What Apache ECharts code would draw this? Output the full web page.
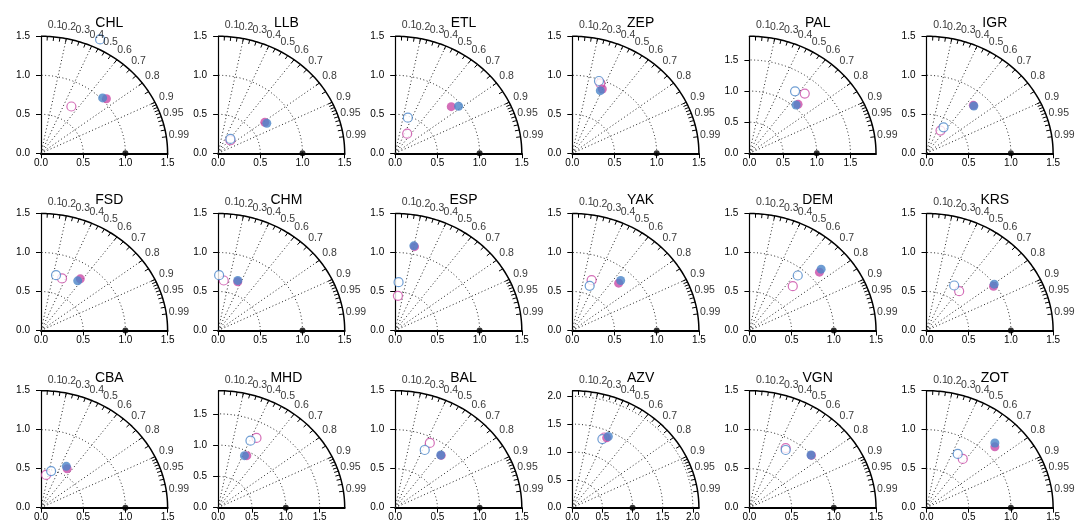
<!DOCTYPE html>
<html>
<head>
<meta charset="utf-8">
<script src="https://cdn.jsdelivr.net/npm/echarts@6/dist/echarts.min.js"></script>
<style>
  html, body { margin: 0; padding: 0; background: #fff; }
  #container { width: 1076px; height: 526px; }
</style>
</head>
<body>
<div id="container"></div>
<script>
// Taylor diagrams, one per site (3 rows x 6 columns)
const sites = ['CHL', 'LLB', 'ETL', 'ZEP', 'PAL', 'IGR',
               'FSD', 'CHM', 'ESP', 'YAK', 'DEM', 'KRS',
               'CBA', 'MHD', 'BAL', 'AZV', 'VGN', 'ZOT'];
const axisMax = [1.5, 1.5, 1.5, 1.5, 1.88, 1.5,
                 1.5, 1.5, 1.5, 1.5, 1.5, 1.5,
                 1.5, 1.87, 1.5, 2.1, 1.5, 1.5];
const axisTicks = [0, 0.5, 1, 1.5, 2];
const corrLabels = [0.1, 0.2, 0.3, 0.4, 0.5, 0.6, 0.7, 0.8, 0.9, 0.95, 0.99];
const corrRays = [0.2, 0.4, 0.6, 0.8, 0.9];
const refPoint = [1, 0];

// normalised points as [std*corr, std*sin(acos(corr))]
const blueFilled = [
  [0.73, 0.71], [0.577, 0.385], [0.751, 0.603], [0.332, 0.803], [0.693, 0.777], [0.561, 0.607],
  [0.435, 0.637], [0.233, 0.641], [0.221, 1.085], [0.573, 0.641], [0.85, 0.786], [0.802, 0.594],
  [0.30, 0.53], [0.389, 0.832], [0.54, 0.676], [0.598, 1.278], [0.73, 0.676], [0.81, 0.83]
];
const magentaFilled = [
  [0.775, 0.70], [0.553, 0.397], [0.664, 0.598], [0.356, 0.825], [0.723, 0.787], [0.555, 0.615],
  [0.466, 0.662], [0.233, 0.625], [0.229, 1.075], [0.549, 0.607], [0.83, 0.748], [0.794, 0.568],
  [0.31, 0.50], [0.424, 0.832], [0.545, 0.67], [0.57, 1.254], [0.735, 0.67], [0.81, 0.78]
];
const blueOpen = [
  [0.70, 1.46], [0.146, 0.184], [0.15, 0.457], [0.316, 0.927], [0.678, 0.996], [0.202, 0.333],
  [0.178, 0.709], [0.012, 0.709], [0.04, 0.62], [0.206, 0.573], [0.573, 0.705], [0.328, 0.577],
  [0.12, 0.47], [0.478, 1.072], [0.35, 0.74], [0.499, 1.231], [0.43, 0.74], [0.37, 0.69]
];
const magentaOpen = [
  [0.36, 0.60], [0.146, 0.167], [0.142, 0.252], [0.332, 0.897], [0.822, 0.959], [0.166, 0.291],
  [0.249, 0.667], [0.067, 0.641], [0.032, 0.444], [0.229, 0.645], [0.514, 0.568], [0.387, 0.504],
  [0.06, 0.42], [0.567, 1.115], [0.41, 0.83], [0.532, 1.26], [0.43, 0.765], [0.43, 0.625]
];

const BLUE = '#4a84c8';
const MAGENTA = '#c94ba6';
const FONT = 'Liberation Sans, Arial, sans-serif';

const chart = echarts.init(document.getElementById('container'), null, { renderer: 'canvas' });

const grids = [], xAxes = [], yAxes = [], titles = [], series = [];

function arcPoints(r) {
  const pts = [];
  for (let a = 0; a <= 90; a += 1) {
    const t = a * Math.PI / 180;
    pts.push([r * Math.cos(t), r * Math.sin(t)]);
  }
  return pts;
}

sites.forEach((name, i) => {
  const col = i % 6, row = Math.floor(i / 6);
  const ox = 41 + col * 177.1;
  const oy = 153.3 + row * 177.2;
  const w = 126.6, h = 117;
  const M = axisMax[i];
  const ticks = axisTicks.filter(v => v <= M + 1e-9);

  grids.push({ left: ox, top: oy - h, width: w, height: h });
  titles.push({
    text: name, left: ox + w / 2, top: oy - 142, textAlign: 'center',
    textStyle: { fontFamily: FONT, fontSize: 14, fontWeight: 'normal', color: '#000' }
  });
  const axisCommon = {
    type: 'value', gridIndex: i, min: 0, max: M,
    splitLine: { show: false },
    axisLine: { show: true, lineStyle: { color: '#000', width: 1.5 } },
    axisTick: { show: true, inside: false, length: 5, customValues: ticks, lineStyle: { color: '#000' } },
    axisLabel: { customValues: ticks, formatter: v => v.toFixed(1), fontFamily: FONT, fontSize: 10, color: '#000' }
  };
  xAxes.push(Object.assign({}, axisCommon, {
    axisLine: { show: true, onZero: false, lineStyle: { color: '#000', width: 2 } },
    axisLabel: Object.assign({}, axisCommon.axisLabel, { margin: 5 })
  }));
  yAxes.push(Object.assign({}, axisCommon, {
    axisLine: { show: true, onZero: false, lineStyle: { color: '#000', width: 1.2 } },
    axisLabel: Object.assign({}, axisCommon.axisLabel, { margin: 11 })
  }));

  const ax = { xAxisIndex: i, yAxisIndex: i };

  // dotted std-dev arcs
  const stdArcs = [0.5, 1, 1.5, 2].filter(r => r < M - 0.05);
  series.push(Object.assign({
    type: 'lines', coordinateSystem: 'cartesian2d', polyline: true, silent: true, clip: false,
    lineStyle: { color: '#222', width: 1, type: [1, 2.5], opacity: 1 },
    data: stdArcs.map(r => ({ coords: arcPoints(r) }))
  }, ax));
  // dotted correlation rays
  series.push(Object.assign({
    type: 'lines', coordinateSystem: 'cartesian2d', silent: true, clip: false,
    lineStyle: { color: '#222', width: 1, type: [1, 2.5], opacity: 1 },
    data: corrRays.map(c => ({ coords: [[0, 0], [M * c, M * Math.sqrt(1 - c * c)]] }))
  }, ax));
  // correlation tick marks on the outer arc
  const tickVals = [];
  for (let k = 1; k <= 18; k++) tickVals.push(k * 0.05);
  for (let k = 91; k <= 99; k++) tickVals.push(k / 100);
  series.push(Object.assign({
    type: 'lines', coordinateSystem: 'cartesian2d', silent: true, clip: false,
    lineStyle: { color: '#000', width: 1, opacity: 1 },
    data: tickVals.map(c => {
      const s = Math.sqrt(1 - c * c);
      const r2 = M * 0.965;
      return { coords: [[M * c, M * s], [r2 * c, r2 * s]] };
    })
  }, ax));
  // outer arc
  series.push(Object.assign({
    type: 'line', silent: true, showSymbol: false, clip: false,
    lineStyle: { color: '#000', width: 1.5 },
    data: arcPoints(M)
  }, ax));
  // correlation labels
  series.push(Object.assign({
    type: 'scatter', silent: true, symbolSize: 0, clip: false,
    data: corrLabels.map(c => [1.1 * M * c, 1.1 * M * Math.sqrt(1 - c * c), c]),
    label: {
      show: true, position: 'inside', formatter: p => String(p.value[2]),
      fontFamily: FONT, fontSize: 10.5, color: '#000'
    }
  }, ax));
  // reference point
  series.push(Object.assign({
    type: 'scatter', silent: true, clip: false, symbolSize: 6,
    itemStyle: { color: '#000' }, data: [refPoint]
  }, ax));
  // model points
  const openStyle = c => ({ color: '#fff', borderColor: c, borderWidth: 1.2 });
  series.push(Object.assign({ type: 'scatter', clip: false, symbolSize: 9, itemStyle: openStyle(MAGENTA), data: [magentaOpen[i]] }, ax));
  series.push(Object.assign({ type: 'scatter', clip: false, symbolSize: 9, itemStyle: openStyle(BLUE), data: [blueOpen[i]] }, ax));
  series.push(Object.assign({ type: 'scatter', clip: false, symbolSize: 9, itemStyle: { color: MAGENTA }, data: [magentaFilled[i]] }, ax));
  series.push(Object.assign({ type: 'scatter', clip: false, symbolSize: 9, itemStyle: { color: BLUE }, data: [blueFilled[i]] }, ax));
});

chart.setOption({
  animation: false,
  backgroundColor: '#fff',
  title: titles,
  grid: grids,
  xAxis: xAxes,
  yAxis: yAxes,
  series: series
});

window.addEventListener('resize', () => chart.resize());
</script>
</body>
</html>
